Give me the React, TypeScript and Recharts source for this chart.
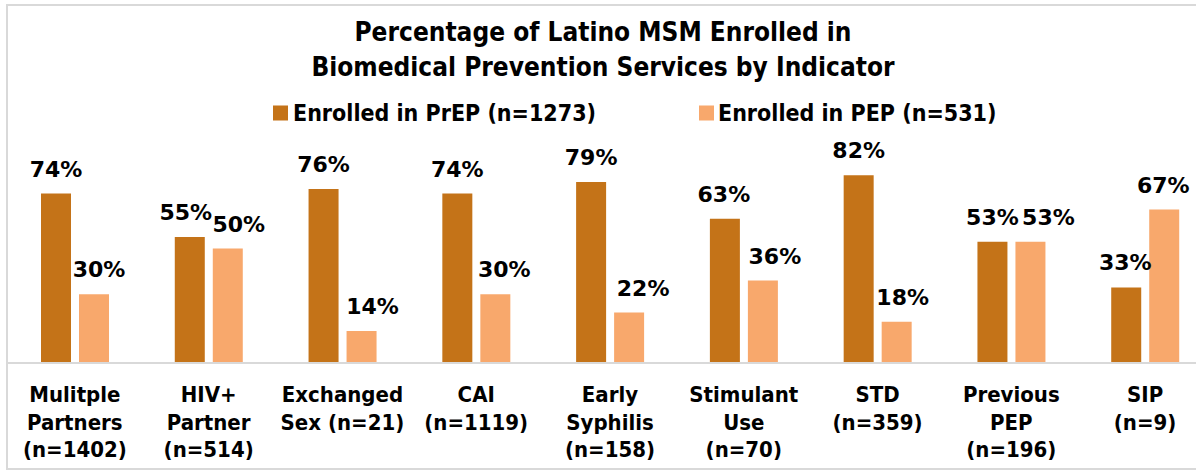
import React from 'react';
import { BarChart, Bar, XAxis, YAxis, LabelList } from 'recharts';

const categories = [
  ['Mulitple', 'Partners', '(n=1402)'],
  ['HIV+', 'Partner', '(n=514)'],
  ['Exchanged', 'Sex (n=21)'],
  ['CAI', '(n=1119)'],
  ['Early', 'Syphilis', '(n=158)'],
  ['Stimulant', 'Use', '(n=70)'],
  ['STD', '(n=359)'],
  ['Previous', 'PEP', '(n=196)'],
  ['SIP', '(n=9)'],
];
const prepValues = [74, 55, 76, 74, 79, 63, 82, 53, 33];
const pepValues = [30, 50, 14, 30, 22, 36, 18, 53, 67];
const seriesNames = ['Enrolled in PrEP (n=1273)', 'Enrolled in PEP (n=531)'];
const titleLines = ['Percentage of Latino MSM Enrolled in', 'Biomedical Prevention Services by Indicator'];

// label nudges (px), to keep neighbouring labels apart like the original
const prepNudge = [0, -4, 0, 0, 0, -1, 0, 0, -1];
const pepNudge = [5, 11, 11, 9, 14, 12, 6, 18, -1];

const PREP = '#C47318';
const PEP = '#F8A86C';
const GRID = '#D9D9D9';
const COND = '"DejaVu Sans Condensed", "DejaVu Sans"';

const data = categories.map((_, i) => ({
  key: String(i),
  prep: prepValues[i],
  pep: pepValues[i],
}));

const CategoryTick = (props: any) => {
  const { x, y, payload } = props;
  const lines = categories[Number(payload.value)];
  return (
    <g>
      {lines.map((t, i) => (
        <text
          key={i}
          x={x}
          y={y + 31 + i * 27.5}
          textAnchor="middle"
          fontFamily={COND}
          fontWeight={700}
          fontSize={22}
          fill="#000"
        >
          {t}
        </text>
      ))}
    </g>
  );
};

const pctLabel = (nudge: number[]) => (props: any) => {
  const { x, y, width, value, index } = props;
  return (
    <text
      x={x + width / 2 + (nudge[index] || 0)}
      y={y - 17}
      textAnchor="middle"
      fontFamily="DejaVu Sans"
      fontWeight={700}
      fontSize={22}
      fill="#000"
    >
      {value}%
    </text>
  );
};

export default function App() {
  return (
    <div style={{ position: 'absolute', left: 0, top: 0, width: 1196, height: 470, overflow: 'hidden', background: '#fff' }}>
      <div
        style={{
          position: 'absolute', left: 6, top: 4, width: 1200, height: 462,
          borderTop: `2px solid ${GRID}`, borderLeft: `2px solid ${GRID}`, borderBottom: `2px solid ${GRID}`,
        }}
      />
      <div style={{ position: 'absolute', left: 0, top: 0 }}>
        <BarChart
          width={1212}
          height={470}
          data={data}
          margin={{ top: 134, right: 0, left: 8, bottom: 27 }}
          barGap={8}
        >
          <XAxis
            dataKey="key"
            height={80}
            interval={0}
            tickLine={false}
            axisLine={{ stroke: GRID, strokeWidth: 2 }}
            tick={<CategoryTick />}
          />
          <YAxis hide domain={[0, 100]} />
          <Bar dataKey="prep" fill={PREP} barSize={30} isAnimationActive={false}>
            <LabelList dataKey="prep" content={pctLabel(prepNudge)} />
          </Bar>
          <Bar dataKey="pep" fill={PEP} barSize={30} isAnimationActive={false}>
            <LabelList dataKey="pep" content={pctLabel(pepNudge)} />
          </Bar>
        </BarChart>
      </div>
      <svg width={1196} height={470} style={{ position: 'absolute', left: 0, top: 0, pointerEvents: 'none' }}>
        <g fontFamily={COND} fontWeight={700} fill="#000">
          <text x={603} y={41} textAnchor="middle" fontSize={26}>{titleLines[0]}</text>
          <text x={603} y={76} textAnchor="middle" fontSize={26}>{titleLines[1]}</text>
          <rect x={273} y={105.5} width={15} height={15} fill={PREP} />
          <text x={293} y={121} fontSize={23}>{seriesNames[0]}</text>
          <rect x={699} y={105.5} width={15} height={15} fill={PEP} />
          <text x={718} y={121} fontSize={23}>{seriesNames[1]}</text>
        </g>
      </svg>
    </div>
  );
}
